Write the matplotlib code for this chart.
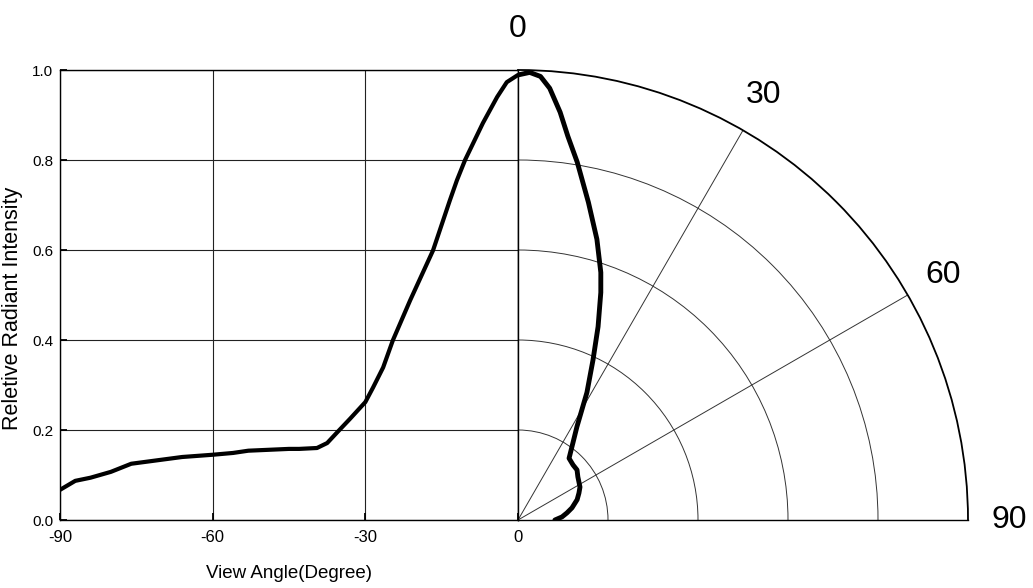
import numpy as np
import matplotlib.pyplot as plt
from matplotlib import font_manager

# left (cartesian) part: view angle vs relative intensity
angle_left = [-90, -87, -84, -80, -76, -70, -66, -60, -56, -53, -49, -45, -43, -39.5,
              -37.5, -35.6, -33, -30, -28.5, -26.5, -24.6, -21.2, -16.7, -13.4, -12,
              -10.4, -6.9, -4.1, -2.2, 0]
inten_left = [0.067, 0.087, 0.094, 0.107, 0.125, 0.134, 0.140, 0.145, 0.149, 0.154,
              0.156, 0.158, 0.158, 0.160, 0.171, 0.194, 0.225, 0.262, 0.294, 0.339,
              0.399, 0.488, 0.599, 0.710, 0.755, 0.800, 0.882, 0.940, 0.973, 0.989]

# right (polar) part
angle_polar = [0, 1.5, 2.9, 4.2, 5.9, 7.4, 9.4, 12.5, 15.7, 18.5, 20, 22.5, 25.1, 28.4,
               32.3, 35.5, 39.6, 45, 49.7, 54.2, 62, 66.2, 71, 77.3, 81.7, 86, 90]
inten_polar = [0.989, 0.995, 0.987, 0.962, 0.911, 0.860, 0.806, 0.723, 0.648, 0.580,
               0.538, 0.465, 0.393, 0.322, 0.245, 0.210, 0.178, 0.173, 0.172, 0.164,
               0.156, 0.148, 0.139, 0.123, 0.110, 0.098, 0.082]

xticks = [-90, -60, -30, 0]
yticks = [0.0, 0.2, 0.4, 0.6, 0.8, 1.0]
theta_ticks = [0, 30, 60, 90]
r_grid = [0.2, 0.4, 0.6, 0.8]

names = [f.name for f in font_manager.fontManager.ttflist]
narrow = 'Liberation Sans Narrow' if 'Liberation Sans Narrow' in names else 'Liberation Sans'

fig = plt.figure(figsize=(10.33, 5.88), dpi=100)

ax = fig.add_axes([60/1033, 68/588, 458/1033, 450/588])
ax.plot(angle_left, inten_left, color='black', lw=3,
        solid_capstyle='round', solid_joinstyle='round')
ax.set_xlim(-90, 0)
ax.set_ylim(0, 1)
ax.set_xticks(xticks)
ax.set_yticks(yticks)
ax.set_xticklabels([str(t) for t in xticks], family=narrow, fontsize=12)
ax.set_yticklabels(['%.1f' % t for t in yticks], family=narrow, fontsize=11)
ax.tick_params(axis='both', direction='in', length=5, width=1.3, color='black')
ax.tick_params(axis='x', pad=7)
ax.tick_params(axis='y', pad=5)
ax.grid(True, color='#222222', lw=0.8)
for s in ax.spines.values():
    s.set_linewidth(1.0)
    s.set_color('black')
ax.set_xlabel('View Angle(Degree)', family=narrow, fontsize=13.5)
ax.set_ylabel('Reletive Radiant Intensity', family='Liberation Sans', fontsize=15.5)
ax.xaxis.set_label_coords(0.5, -0.1)
ax.yaxis.set_label_coords(-0.08, 0.47)

pax = fig.add_axes([518/1033, 68/588, 450/1033, 450/588], projection='polar')
pax.set_theta_zero_location('N')
pax.set_theta_direction(-1)
pax.set_thetamin(0)
pax.set_thetamax(90)
pax.set_rlim(0, 1)
pax.plot(np.deg2rad(angle_polar), inten_polar, color='black', lw=3.5,
         solid_capstyle='round', solid_joinstyle='round')
pax.set_thetagrids(theta_ticks, [str(t) for t in theta_ticks],
                   family='Liberation Sans', fontsize=23)
pax.set_rgrids(r_grid, [''] * len(r_grid))
pax.grid(True, color='#333333', lw=0.7)
pax.tick_params(axis='x', pad=19)
pax.spines['polar'].set_linewidth(1.3)
pax.spines['polar'].set_color('black')
for k in ['start', 'end']:
    pax.spines[k].set_linewidth(1.0)
    pax.spines[k].set_color('black')

fig.savefig('out.png', dpi=100)
